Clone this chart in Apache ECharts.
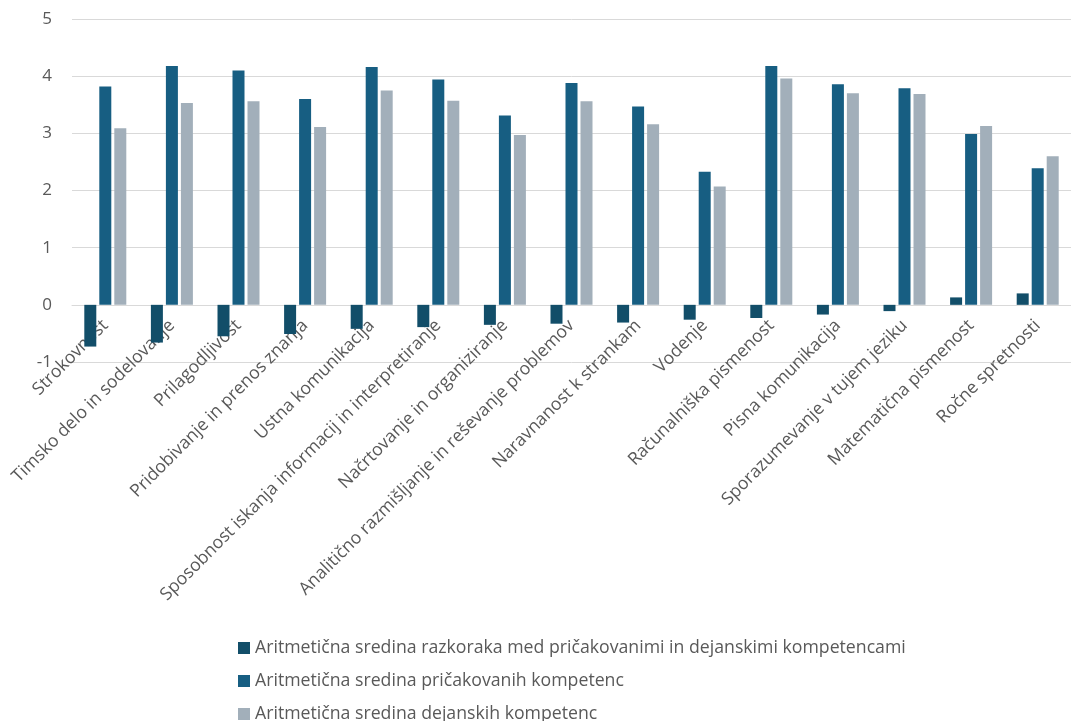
<!DOCTYPE html>
<html>
<head>
<meta charset="utf-8">
<script src="https://cdn.jsdelivr.net/npm/echarts@6/dist/echarts.min.js"></script>
<style>
  html, body { margin: 0; padding: 0; background: #ffffff; }
  #chart { width: 1071px; height: 721px; }
</style>
</head>
<body>
<div id="chart"></div>
<script>
// Competence names (category axis)
const categories = [
  'Strokovnost',
  'Timsko delo in sodelovanje',
  'Prilagodljivost',
  'Pridobivanje in prenos znanja',
  'Ustna komunikacija',
  'Sposobnost iskanja informacij in interpretiranje',
  'Načrtovanje in organiziranje',
  'Analitično razmišljanje in reševanje problemov',
  'Naravnanost k strankam',
  'Vodenje',
  'Računalniška pismenost',
  'Pisna komunikacija',
  'Sporazumevanje v tujem jeziku',
  'Matematična pismenost',
  'Ročne spretnosti'
];

// Mean gap between expected and actual competences
const gapValues = [-0.73, -0.66, -0.55, -0.51, -0.42, -0.39, -0.35, -0.33, -0.31, -0.26, -0.23, -0.17, -0.11, 0.13, 0.20];
// Mean expected competences
const expectedValues = [3.82, 4.18, 4.10, 3.60, 4.16, 3.94, 3.31, 3.88, 3.47, 2.33, 4.18, 3.86, 3.79, 2.99, 2.39];
// Mean actual competences
const actualValues = [3.09, 3.53, 3.56, 3.11, 3.75, 3.57, 2.97, 3.56, 3.16, 2.07, 3.96, 3.70, 3.69, 3.13, 2.60];

const seriesNames = [
  'Aritmetična sredina razkoraka med pričakovanimi in dejanskimi kompetencami',
  'Aritmetična sredina pričakovanih kompetenc',
  'Aritmetična sredina dejanskih kompetenc'
];
const seriesColors = ['#124e69', '#175e82', '#a2afba'];

const yTicks = { min: -1, max: 5, interval: 1 };

const textColor = '#595959';
const fontFamily = '"Open Sans", "Noto Sans", sans-serif';

const gridTop = 19;
const gridBottomPx = 362;
const unitPx = (gridBottomPx - gridTop) / (yTicks.max - yTicks.min);

const chart = echarts.init(document.getElementById('chart'), null, { renderer: 'canvas' });

function barSeries(i, data) {
  return {
    name: seriesNames[i],
    type: 'bar',
    data: data,
    barWidth: 12,
    barGap: '25%',
    itemStyle: { color: seriesColors[i] },
    emphasis: { disabled: true }
  };
}

// One legend block per row so the three entries stack in a single column
const legends = seriesNames.map((name, i) => ({
  orient: 'vertical',
  left: 233,
  top: 634 + i * 33,
  itemWidth: 12,
  itemHeight: 12,
  icon: 'rect',
  textStyle: { color: textColor, fontSize: 17.7, fontFamily: fontFamily },
  data: [name]
}));

chart.setOption({
  animation: false,
  backgroundColor: '#ffffff',
  textStyle: { fontFamily: fontFamily },
  grid: { left: 72, right: -7, top: gridTop, bottom: 721 - gridBottomPx },
  xAxis: {
    type: 'category',
    data: categories,
    position: 'bottom',
    // category axis sits on the zero line, labels hang below it
    offset: -(0 - yTicks.min) * unitPx,
    axisLine: { onZero: false, lineStyle: { color: '#d9d9d9', width: 1 } },
    axisTick: { show: false },
    axisLabel: {
      rotate: 45,
      interval: 0,
      margin: 18,
      color: textColor,
      fontSize: 17.6,
      fontFamily: fontFamily
    }
  },
  yAxis: {
    type: 'value',
    min: yTicks.min,
    max: yTicks.max,
    interval: yTicks.interval,
    axisLine: { show: false },
    axisTick: { show: false },
    splitLine: { lineStyle: { color: '#d9d9d9', width: 1 } },
    axisLabel: {
      color: textColor,
      fontSize: 17,
      margin: 20,
      fontFamily: fontFamily
    }
  },
  legend: legends,
  series: [
    barSeries(0, gapValues),
    barSeries(1, expectedValues),
    barSeries(2, actualValues)
  ]
});
</script>
</body>
</html>
